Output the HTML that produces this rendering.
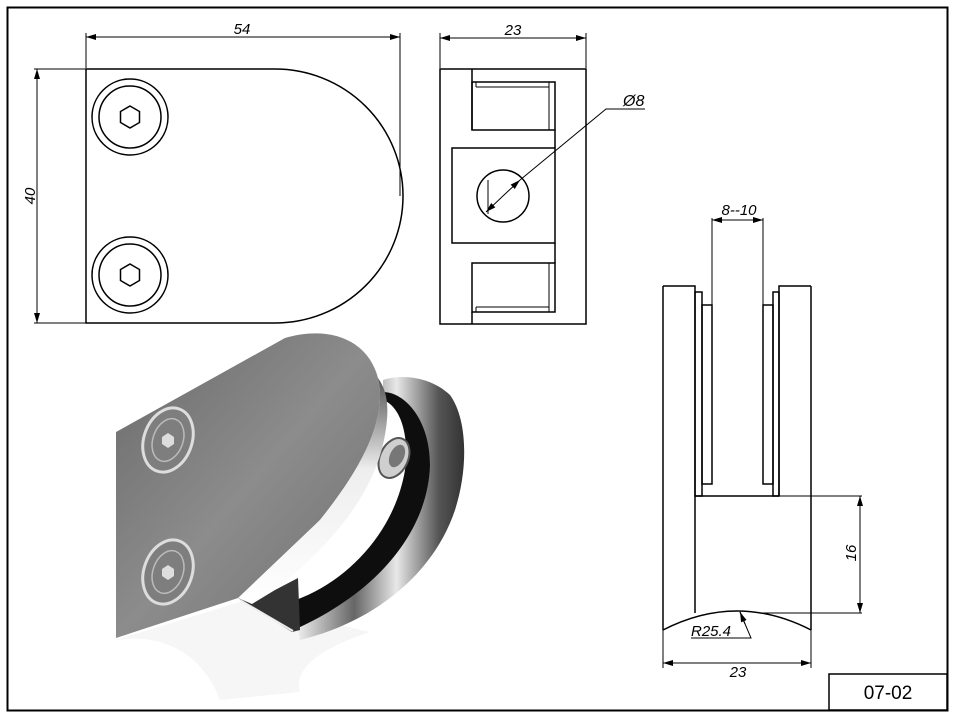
<!DOCTYPE html>
<html><head><meta charset="utf-8"><style>
html,body{margin:0;padding:0;background:#fff}
svg{display:block}
text{font-family:"Liberation Sans",sans-serif;font-style:italic;fill:#000}
</style></head><body>
<svg width="957" height="720" viewBox="0 0 957 720" xmlns="http://www.w3.org/2000/svg">
<defs>
<marker id="a" viewBox="0 0 10 6" refX="10" refY="3" markerWidth="10" markerHeight="6" orient="auto-start-reverse" markerUnits="userSpaceOnUse"><path d="M0,0 L10,3 L0,6z" fill="#000"/></marker>
<linearGradient id="plate" x1="0" y1="0" x2="1" y2="1">
<stop offset="0" stop-color="#6a6a6a"/><stop offset="0.5" stop-color="#8c8c8c"/><stop offset="1" stop-color="#6e6e6e"/></linearGradient>
<linearGradient id="ring" x1="0" y1="0" x2="1" y2="0">
<stop offset="0" stop-color="#f4f4f4"/><stop offset="0.35" stop-color="#666"/><stop offset="0.6" stop-color="#e8e8e8"/><stop offset="0.85" stop-color="#555"/><stop offset="1" stop-color="#333"/></linearGradient>
<linearGradient id="rim" x1="0" y1="0" x2="0" y2="1">
<stop offset="0" stop-color="#555"/><stop offset="0.4" stop-color="#eee"/><stop offset="1" stop-color="#fff"/></linearGradient>
</defs>
<rect x="7.5" y="7.5" width="940" height="703" fill="none" stroke="#000" stroke-width="2"/>
<!-- front view -->
<g fill="none" stroke="#000" stroke-width="1.5">
<path d="M86,69 H275 A128,127 0 0 1 275,323 H86 Z"/>
<circle cx="130" cy="117" r="38"/><circle cx="130" cy="117" r="31"/>
<polygon points="130,106 139.5,111.5 139.5,122.5 130,128 120.5,122.5 120.5,111.5"/>
<circle cx="130" cy="275" r="38"/><circle cx="130" cy="275" r="31"/>
<polygon points="130,264 139.5,269.5 139.5,280.5 130,286 120.5,280.5 120.5,269.5"/>
</g>
<g stroke="#000" stroke-width="1" fill="none">
<line x1="86" y1="68" x2="86" y2="33"/><line x1="400" y1="196" x2="400" y2="33"/>
<line x1="86" y1="37" x2="400" y2="37" marker-start="url(#a)" marker-end="url(#a)"/>
<line x1="34" y1="69" x2="86" y2="69"/><line x1="34" y1="323" x2="86" y2="323"/>
<line x1="37" y1="69" x2="37" y2="323" marker-start="url(#a)" marker-end="url(#a)"/>
</g>
<text x="242" y="34" font-size="15" text-anchor="middle">54</text>
<text x="35" y="196" font-size="15" text-anchor="middle" transform="rotate(-90 35 196)">40</text>
<!-- side view -->
<g fill="none" stroke="#000" stroke-width="1.5">
<rect x="440" y="69" width="146" height="255"/>
<line x1="472" y1="69" x2="472" y2="130"/>
<rect x="472" y="82" width="83" height="48"/>
<line x1="549" y1="82" x2="549" y2="130" stroke-width="1"/>
<line x1="476" y1="87" x2="549" y2="87" stroke-width="1"/>
<line x1="476" y1="82" x2="476" y2="87" stroke-width="1"/>
<rect x="452" y="148" width="103" height="95"/>
<line x1="555" y1="130" x2="555" y2="148"/><line x1="555" y1="243" x2="555" y2="263"/>
<rect x="472" y="263" width="83" height="49"/>
<line x1="472" y1="312" x2="472" y2="324"/>
<line x1="549" y1="263" x2="549" y2="312" stroke-width="1"/>
<line x1="476" y1="307" x2="549" y2="307" stroke-width="1"/>
<line x1="476" y1="307" x2="476" y2="312" stroke-width="1"/>
<circle cx="503" cy="196" r="26"/>
<line x1="488" y1="180" x2="488" y2="214" stroke-width="1"/>
</g>
<g stroke="#000" stroke-width="1" fill="none">
<line x1="440" y1="68" x2="440" y2="33"/><line x1="586" y1="68" x2="586" y2="33"/>
<line x1="440" y1="38" x2="586" y2="38" marker-start="url(#a)" marker-end="url(#a)"/>
<line x1="486" y1="212" x2="520" y2="180" marker-start="url(#a)" marker-end="url(#a)"/>
<polyline points="520,180 606,109 645,109"/>
</g>
<text x="513" y="35" font-size="15" text-anchor="middle">23</text>
<text x="623" y="106" font-size="16">Ø8</text>
<!-- 3D render -->
<g>
<path d="M116,640 C170,632 205,660 220,700 L300,692 C292,665 330,645 370,632 L240,602 Z" fill="#f6f6f6"/>
<path d="M383,380 C400,374 430,376 450,395 C468,420 468,470 455,510 C435,570 380,620 300,640 L295,615 C360,600 415,550 425,480 C432,430 410,395 383,395 Z" fill="url(#ring)"/>
<path d="M383,392 C405,392 430,420 430,465 C428,530 380,590 298,628 L296,600 C350,580 395,530 405,470 C410,430 398,405 383,400 Z" fill="#0e0e0e"/>
<ellipse cx="394" cy="458" rx="14" ry="21" transform="rotate(25 394 458)" fill="#cfcfcf" stroke="#555" stroke-width="2"/>
<ellipse cx="397" cy="456" rx="7" ry="12" transform="rotate(25 397 456)" fill="#777"/>
<path d="M116,432 L285,338 C330,325 368,340 378,378 C388,420 360,470 320,520 L238,598 L116,638 Z" fill="url(#plate)"/>
<path d="M378,378 C388,420 360,470 320,520 L240,598 L252,606 C320,560 372,500 384,440 C390,410 388,392 378,378Z" fill="url(#rim)"/>
<path d="M238,598 L252,604 L275,590 L298,578 L300,630 L292,632 Z" fill="#333"/>
<path d="M240,600 L293,631" stroke="#eee" stroke-width="2"/>
<ellipse cx="168" cy="440" rx="24" ry="33" transform="rotate(20 168 440)" fill="#7e7e7e" stroke="#ddd" stroke-width="3"/>
<ellipse cx="168" cy="440" rx="15" ry="22" transform="rotate(20 168 440)" fill="none" stroke="#bbb" stroke-width="1.5"/>
<polygon points="168,433 174,437 174,444 168,448 162,444 162,437" fill="#ddd"/>
<ellipse cx="168" cy="572" rx="24" ry="33" transform="rotate(20 168 572)" fill="#7e7e7e" stroke="#ddd" stroke-width="3"/>
<ellipse cx="168" cy="572" rx="15" ry="22" transform="rotate(20 168 572)" fill="none" stroke="#bbb" stroke-width="1.5"/>
<polygon points="168,565 174,569 174,576 168,580 162,576 162,569" fill="#ddd"/>
</g>
<!-- right view -->
<g fill="none" stroke="#000" stroke-width="1.5">
<path d="M663,286 V630 M663,286 H695 V613"/>
<path d="M811,286 V630 M811,286 H779 V496"/>
<rect x="695" y="292" width="7" height="204"/>
<rect x="702" y="305" width="10" height="179"/>
<rect x="773" y="292" width="6" height="204"/>
<rect x="763" y="305" width="10" height="179"/>
<line x1="695" y1="496" x2="779" y2="496"/>
<path d="M663,630 Q737,592 811,630"/>
</g>
<g stroke="#000" stroke-width="1" fill="none">
<line x1="712" y1="305" x2="712" y2="218"/><line x1="763" y1="305" x2="763" y2="218"/>
<line x1="712" y1="220" x2="763" y2="220" marker-start="url(#a)" marker-end="url(#a)"/>
<line x1="779" y1="496" x2="862" y2="496"/><line x1="760" y1="613" x2="862" y2="613"/>
<line x1="860" y1="496" x2="860" y2="613" marker-start="url(#a)" marker-end="url(#a)"/>
<line x1="663" y1="630" x2="663" y2="668"/><line x1="811" y1="630" x2="811" y2="668"/>
<line x1="663" y1="663" x2="811" y2="663" marker-start="url(#a)" marker-end="url(#a)"/>
<polyline points="691,638 751,638 740,612" />
<line x1="745" y1="624" x2="740" y2="612" marker-end="url(#a)"/>
</g>
<text x="739" y="215" font-size="15" text-anchor="middle">8--10</text>
<text x="856" y="553" font-size="15" text-anchor="middle" transform="rotate(-90 856 553)">16</text>
<text x="691" y="636" font-size="15">R25.4</text>
<text x="738" y="677" font-size="15" text-anchor="middle">23</text>
<!-- title -->
<rect x="829" y="674" width="118" height="36" fill="none" stroke="#000" stroke-width="1.5"/>
<text x="888" y="699" font-size="19" text-anchor="middle" style="font-style:normal">07-02</text>
</svg>
</body></html>
